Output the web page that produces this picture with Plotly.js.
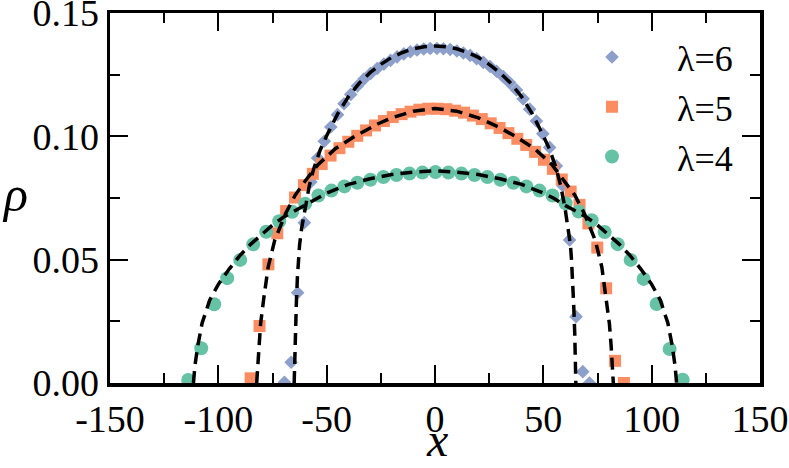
<!DOCTYPE html>
<html>
<head>
<meta charset="utf-8">
<script src="https://cdn.plot.ly/plotly-3.0.1.min.js"></script>
<style>
  html, body { margin: 0; padding: 0; background: #ffffff; }
  #chart { width: 789px; height: 468px; }
</style>
</head>
<body>
<div id="chart"></div>
<script>
// ---------- data ----------
var seriesNames = ["λ=6", "λ=5", "λ=4"];

// λ=6 simulation points (diamonds)
var x6 = [-69.5, -66.4, -63.4, -60.3, -57.3, -54.2, -51.1, -48.1, -45.0, -42.0, -38.9, -35.8, -32.8, -29.7, -26.7, -23.6, -20.5, -17.5, -14.4, -11.4, -8.3, -5.2, -2.2, 0.9, 3.9, 7.0, 10.1, 13.1, 16.2, 19.2, 22.3, 25.4, 28.4, 31.5, 34.5, 37.6, 40.7, 43.7, 46.8, 49.8, 52.9, 56.0, 59.0, 62.1, 65.1, 68.2, 71.3];
var y6 = [0.0003, 0.0084, 0.0366, 0.0650, 0.0815, 0.0912, 0.0980, 0.1038, 0.1088, 0.1132, 0.1170, 0.1204, 0.1232, 0.1255, 0.1275, 0.1293, 0.1308, 0.1322, 0.1334, 0.1343, 0.1350, 0.1354, 0.1356, 0.1356, 0.1355, 0.1352, 0.1346, 0.1338, 0.1328, 0.1315, 0.1300, 0.1283, 0.1264, 0.1242, 0.1217, 0.1188, 0.1152, 0.1110, 0.1062, 0.1010, 0.0955, 0.0880, 0.0800, 0.0580, 0.0269, 0.0046, 0.0000];

// λ=5 simulation points (squares)
var x5 = [-85.1, -81.0, -76.9, -72.8, -68.7, -64.6, -60.5, -56.4, -52.3, -48.2, -44.1, -40.0, -35.9, -31.8, -27.7, -23.6, -19.5, -15.4, -11.3, -7.2, -3.1, 1.1, 5.2, 9.3, 13.4, 17.5, 21.6, 25.7, 29.8, 33.9, 38.0, 42.1, 46.2, 50.3, 54.4, 58.5, 62.6, 66.7, 70.8, 74.9, 79.0, 83.1, 87.2];
var y5 = [0.0019, 0.0231, 0.0481, 0.0607, 0.0697, 0.0752, 0.0802, 0.0848, 0.0888, 0.0922, 0.0952, 0.0978, 0.1002, 0.1024, 0.1044, 0.1062, 0.1078, 0.1090, 0.1100, 0.1108, 0.1112, 0.1112, 0.1110, 0.1104, 0.1096, 0.1084, 0.1070, 0.1053, 0.1034, 0.1013, 0.0990, 0.0965, 0.0937, 0.0905, 0.0868, 0.0825, 0.0776, 0.0722, 0.0647, 0.0549, 0.0384, 0.0090, 0.0000];

// λ=4 simulation points (circles)
var x4 = [-113.9, -107.9, -101.9, -95.9, -89.9, -83.9, -77.9, -71.9, -65.9, -59.9, -53.8, -47.8, -41.8, -35.8, -29.8, -23.8, -17.8, -11.8, -5.8, 0.2, 6.2, 12.2, 18.2, 24.2, 30.2, 36.2, 42.2, 48.2, 54.2, 60.3, 66.3, 72.3, 78.3, 84.3, 90.3, 96.3, 102.3, 108.3, 114.3];
var y4 = [0.0012, 0.0141, 0.0319, 0.0425, 0.0499, 0.0562, 0.0613, 0.0656, 0.0694, 0.0727, 0.0760, 0.0780, 0.0797, 0.0812, 0.0824, 0.0835, 0.0843, 0.0849, 0.0853, 0.0855, 0.0853, 0.0849, 0.0843, 0.0835, 0.0824, 0.0812, 0.0797, 0.0780, 0.0760, 0.0729, 0.0695, 0.0660, 0.0612, 0.0563, 0.0499, 0.0422, 0.0320, 0.0138, 0.0013];

// theory curves (dashed)
var xt6 = [-65.0, -64.8, -64.5, -64.0, -63.5, -63.0, -62.5, -61.5, -60.0, -58.0, -56.0, -53.0, -50.0, -45.0, -40.0, -35.0, -30.0, -25.0, -20.0, -15.0, -10.0, -5.0, 0.0, 5.0, 10.0, 15.0, 20.0, 25.0, 30.0, 35.0, 40.0, 45.0, 50.0, 53.0, 56.0, 58.0, 60.0, 61.5, 62.5, 63.0, 63.5, 64.0, 64.5, 64.8, 65.0];
var yt6 = [0.0000, 0.0100, 0.0200, 0.0320, 0.0430, 0.0500, 0.0560, 0.0630, 0.0710, 0.0800, 0.0868, 0.0945, 0.1002, 0.1090, 0.1160, 0.1215, 0.1258, 0.1292, 0.1320, 0.1340, 0.1355, 0.1363, 0.1366, 0.1363, 0.1355, 0.1340, 0.1320, 0.1292, 0.1258, 0.1215, 0.1160, 0.1090, 0.1002, 0.0945, 0.0868, 0.0800, 0.0710, 0.0630, 0.0560, 0.0500, 0.0430, 0.0320, 0.0200, 0.0100, 0.0000];

var xt5 = [-82.3, -81.8, -81.3, -80.5, -79.0, -77.0, -74.0, -72.0, -69.0, -64.5, -60.0, -54.0, -46.0, -37.0, -30.0, -26.0, -20.0, -10.0, 0.0, 10.0, 20.0, 26.0, 30.0, 37.0, 46.0, 54.0, 60.0, 64.5, 69.0, 72.0, 74.0, 77.0, 79.0, 80.5, 81.3, 81.8, 82.3];
var yt5 = [0.0000, 0.0070, 0.0150, 0.0240, 0.0345, 0.0470, 0.0578, 0.0625, 0.0686, 0.0762, 0.0818, 0.0885, 0.0950, 0.1000, 0.1035, 0.1052, 0.1075, 0.1102, 0.1113, 0.1102, 0.1075, 0.1052, 0.1035, 0.1000, 0.0950, 0.0885, 0.0818, 0.0762, 0.0686, 0.0625, 0.0578, 0.0470, 0.0345, 0.0240, 0.0150, 0.0070, 0.0000];

var xt4 = [-111.5, -110.8, -109.5, -107.5, -104.0, -100.0, -95.0, -90.0, -85.0, -80.0, -75.0, -70.0, -65.0, -60.0, -55.0, -50.0, -40.0, -30.0, -20.0, -10.0, 0.0, 10.0, 20.0, 30.0, 40.0, 50.0, 55.0, 60.0, 65.0, 70.0, 75.0, 80.0, 85.0, 90.0, 95.0, 100.0, 104.0, 107.5, 109.5, 110.8, 111.5];
var yt4 = [0.0000, 0.0070, 0.0150, 0.0242, 0.0336, 0.0400, 0.0462, 0.0517, 0.0563, 0.0603, 0.0640, 0.0672, 0.0697, 0.0720, 0.0748, 0.0770, 0.0805, 0.0828, 0.0845, 0.0855, 0.0860, 0.0855, 0.0845, 0.0828, 0.0805, 0.0770, 0.0748, 0.0720, 0.0697, 0.0672, 0.0640, 0.0603, 0.0563, 0.0517, 0.0462, 0.0400, 0.0336, 0.0242, 0.0150, 0.0070, 0.0000];

var xTickVals = [-150, -100, -50, 0, 50, 100, 150];
var xTickText = ["-150", "-100", "-50", "0", "50", "100", "150"];
var yTickVals = [0, 0.05, 0.10, 0.15];
var yTickText = ["0.00", "0.05", "0.10", "0.15"];

// ---------- styles ----------
var FONT = "Liberation Serif";
var colors = ["#8da0cb", "#fc8d62", "#66c2a5"];
var dashStyle = {color: "#000000", width: 3.5, dash: "12px,7px"};
var legendPad = "\u00a0\u00a0";

var traces = [
  {x: x6, y: y6, name: legendPad + seriesNames[0], type: "scatter", mode: "markers",
   marker: {symbol: "diamond", size: 10.5, color: colors[0]}},
  {x: x5, y: y5, name: legendPad + seriesNames[1], type: "scatter", mode: "markers",
   marker: {symbol: "square", size: 12, color: colors[1]}},
  {x: x4, y: y4, name: legendPad + seriesNames[2], type: "scatter", mode: "markers",
   marker: {symbol: "circle", size: 14, color: colors[2]}},
  {x: xt6, y: yt6, type: "scatter", mode: "lines", line: dashStyle, showlegend: false, hoverinfo: "skip"},
  {x: xt5, y: yt5, type: "scatter", mode: "lines", line: dashStyle, showlegend: false, hoverinfo: "skip"},
  {x: xt4, y: yt4, type: "scatter", mode: "lines", line: dashStyle, showlegend: false, hoverinfo: "skip"}
];

var axisCommon = {
  showgrid: false, zeroline: false,
  showline: true, linecolor: "#000000", linewidth: 3.5, mirror: "ticks",
  ticks: "inside", ticklen: 18, tickwidth: 2, tickcolor: "#000000",
  tickfont: {family: FONT, size: 38, color: "#000000"},
  ticklabeloverflow: "allow",
  tickmode: "array"
};

var layout = {
  width: 789, height: 468,
  margin: {l: 110, r: 29, t: 13, b: 85, pad: 0},
  paper_bgcolor: "#ffffff", plot_bgcolor: "#ffffff",
  showlegend: true,
  font: {family: FONT, color: "#000000"},
  xaxis: Object.assign({}, axisCommon, {
    range: [-150, 150], tickvals: xTickVals, ticktext: xTickText,
    minor: {tickmode: "linear", tick0: -150, dtick: 25, ticks: "inside", ticklen: 10, tickwidth: 2, tickcolor: "#000000"}
  }),
  yaxis: Object.assign({}, axisCommon, {
    range: [0, 0.15], tickvals: yTickVals, ticktext: yTickText,
    minor: {tickmode: "linear", tick0: 0, dtick: 0.025, ticks: "inside", ticklen: 10, tickwidth: 2, tickcolor: "#000000"}
  }),
  legend: {
    x: 0.700, y: 0.962, xanchor: "left", yanchor: "top",
    bgcolor: "rgba(0,0,0,0)", borderwidth: 0,
    itemwidth: 84,
    font: {family: FONT, size: 36, color: "#000000"}
  },
  annotations: [
    {text: "<i>ρ</i>", xref: "paper", yref: "paper", x: -0.1692, y: 0.51,
     xanchor: "left", yanchor: "middle", showarrow: false,
     font: {family: FONT, size: 50, color: "#000000"}},
    {text: "<i>x</i>", xref: "paper", yref: "paper", x: 0.503, y: -0.229,
     xanchor: "center", yanchor: "bottom", showarrow: false,
     font: {family: FONT, size: 48, color: "#000000"}}
  ]
};

Plotly.newPlot("chart", traces, layout, {staticPlot: true, displayModeBar: false});
</script>
</body>
</html>
